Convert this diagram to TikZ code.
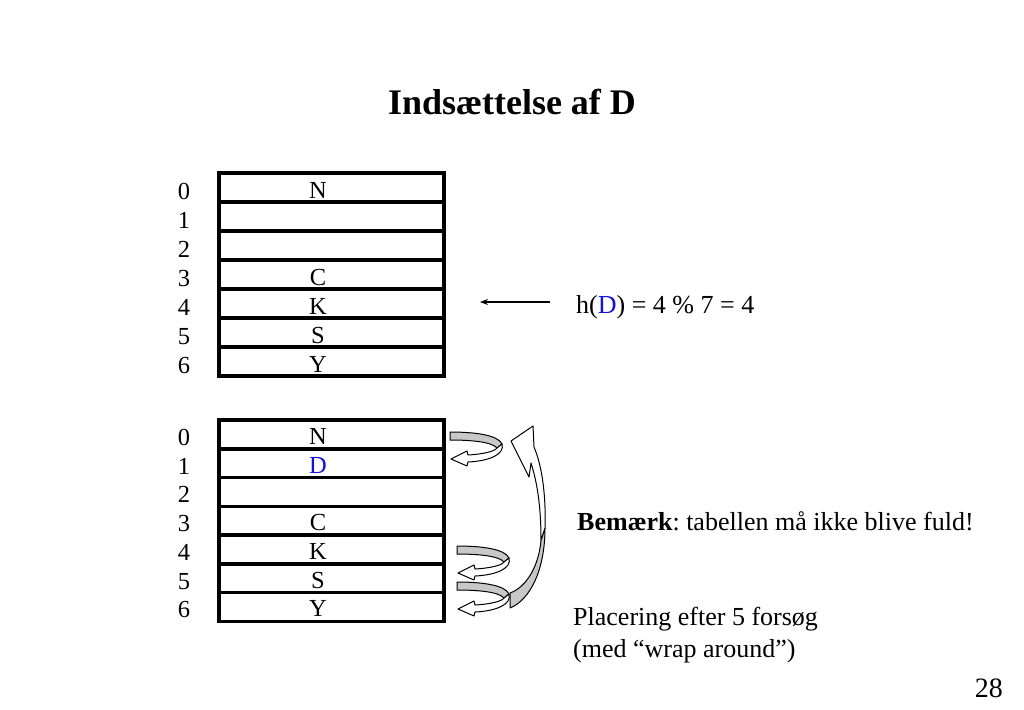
\documentclass[tikz,border=0pt]{standalone}
\usepackage{fontspec}
\setmainfont{Liberation Serif}
\usetikzlibrary{calc,arrows.meta}
\definecolor{dblue}{RGB}{20,20,215}
\definecolor{argray}{RGB}{200,200,200}
\begin{document}
\frenchspacing
\begin{tikzpicture}[x=1pt,y=-1pt,
  cell/.style={draw,line width=3.2pt,minimum width=225pt,minimum height=29pt,inner sep=0pt,outer sep=0pt},
  lbl/.style={anchor=base,inner sep=0pt,font=\fontsize{24.5}{28}\selectfont},
  txt/.style={anchor=base west,inner sep=0pt,font=\fontsize{26}{31}\selectfont},
  arline/.style={draw=black,line width=1pt,line join=round},
  uturn/.pic={
    \filldraw[arline,fill=argray] (0,0) .. controls (25,0) and (48,3) .. (52,12) -- (47,16) .. controls (42,10) and (22,8) .. (0,8) -- cycle;
    \filldraw[arline,fill=white] (52,12) .. controls (55,22) and (40,29) .. (18,30) -- (17,34) -- (1,27) -- (17,19) -- (18,23) .. controls (35,22) and (45,19) .. (47,16) -- cycle;
  }
  ]
\useasboundingbox[fill=white] (0,0) rectangle (1024,709);

\node[anchor=base,inner sep=0pt,font=\bfseries\fontsize{36}{40}\selectfont] (title) at (512,114) {Indsættelse af D};

% table 1
\foreach \i in {0,...,6}{
  \node[cell] (a\i) at (331.5,187.5+29*\i) {};
  \node[lbl] (al\i) at ($(a\i.north)+(-147.5,26)$) {\i};
}
\foreach \i/\t in {0/N,3/C,4/K,5/S,6/Y}{
  \node[lbl] (ac\i) at ($(a\i.north)+(-13.5,25)$) {\t};
}

% table 2
\foreach \i in {0,...,6}{
  \node[cell] (b\i) at (331.5,434.4+28.75*\i) {};
  \node[lbl] (bl\i) at ($(b\i.north)+(-147.5,25.5)$) {\i};
}
\foreach \i/\t in {0/N,3/C,4/K,5/S,6/Y}{
  \node[lbl] (bc\i) at ($(b\i.north)+(-13.5,24.5)$) {\t};
}
\node[lbl,text=dblue] (bc1) at ($(b1.north)+(-13.5,24.5)$) {D};

% hash arrow
\coordinate (hs) at (550,302);
\coordinate (he) at (480,302);
\draw[-{Stealth[length=8pt,width=6pt]},line width=1.2pt] (hs) -- (he);
\node[txt] (hd) at (576,313) {h(\textcolor{dblue}{D}) = 4 \% 7 = 4};

% u-turn arrows
\pic (u1) at (450,432) {uturn};
\pic (u2) at (457,546) {uturn};
\pic (u3) at (457,582) {uturn};

% big wrap-around arrow
\filldraw[arline,fill=argray] (545,528) .. controls (545,570) and (530,600) .. (510,608) -- (510,593) .. controls (527,587) and (539,565) .. (541,540) -- cycle;
\filldraw[arline,fill=white] (511,441) -- (533,426) -- (534,447) .. controls (543,468) and (546,500) .. (545,528) -- (541,540) .. controls (541,510) and (538,485) .. (531,463) -- (529,477) -- cycle;

\node[txt] (note) at (577,530) {\textbf{Bemærk}: tabellen må ikke blive fuld!};
\node[txt] (pl1) at (573,625) {Placering efter 5 forsøg};
\node[txt] (pl2) at (573,657) {(med “wrap around”)};
\node[anchor=base east,inner sep=0pt,font=\fontsize{28}{32}\selectfont] (pg) at (1003,697) {28};
\end{tikzpicture}
\end{document}
